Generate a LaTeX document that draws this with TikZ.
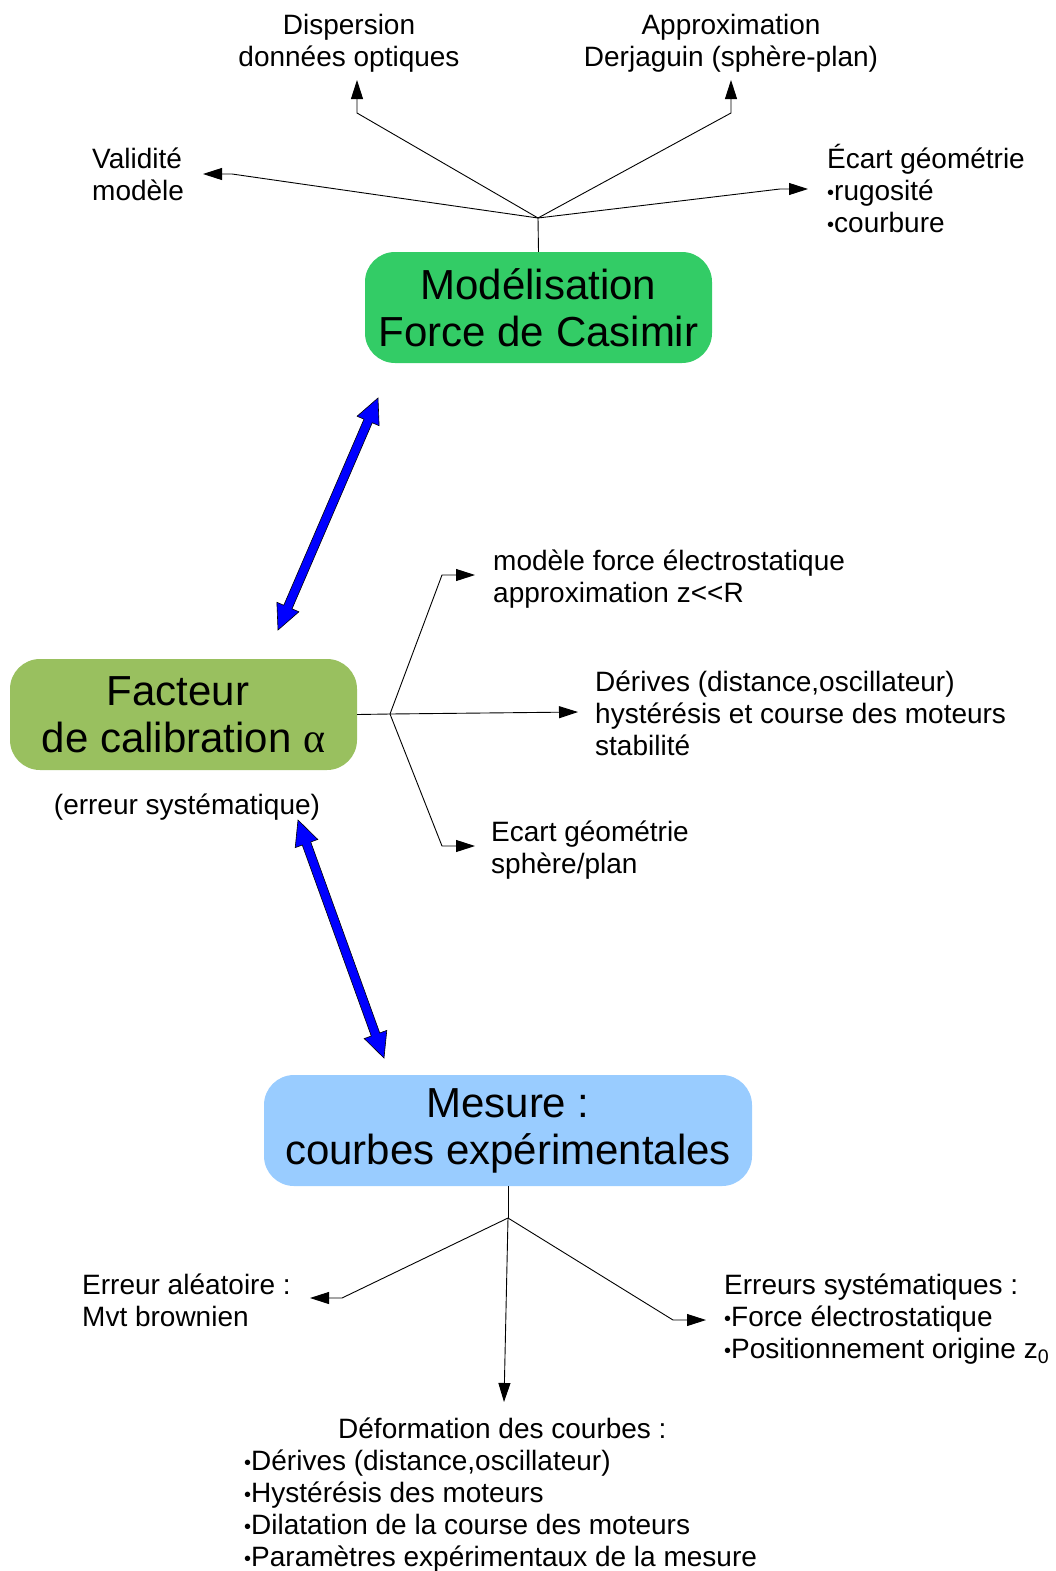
\documentclass[tikz,border=0pt]{standalone}
\usepackage{fontspec}
\setmainfont{Liberation Sans}
\newfontfamily\alphafont{Liberation Serif}
\usetikzlibrary{arrows.meta, positioning, calc}

\definecolor{modelgreen}{RGB}{51,204,102}
\definecolor{calibgreen}{RGB}{153,192,95}
\definecolor{mesureblue}{RGB}{153,204,255}

% small list bullet
\newcommand{\smallbullet}{{\fontsize{20}{20}\selectfont\raisebox{0.5pt}{•}}}

% large blue double arrow between two named coordinates
\newcommand{\bigdblarrow}[2]{%
  \filldraw[fill=blue, draw=black, line width=0.6pt]
    (#1)
    -- ($(#1)!25pt!(#2)!12pt!90:(#2)$)
    -- ($(#1)!25pt!(#2)!4.5pt!90:(#2)$)
    -- ($(#2)!25pt!(#1)!4.5pt!-90:(#1)$)
    -- ($(#2)!25pt!(#1)!12pt!-90:(#1)$)
    -- (#2)
    -- ($(#2)!25pt!(#1)!12pt!90:(#1)$)
    -- ($(#2)!25pt!(#1)!4.5pt!90:(#1)$)
    -- ($(#1)!25pt!(#2)!4.5pt!-90:(#2)$)
    -- ($(#1)!25pt!(#2)!12pt!-90:(#2)$)
    -- cycle;}

\begin{document}
\begin{tikzpicture}[
    x=1pt, y=-1pt,
    box/.style={rectangle, rounded corners=30pt, minimum width=347pt, minimum height=111pt, align=center, inner sep=0pt, font=\fontsize{42}{47}\selectfont},
    lbl/.style={inner sep=0pt, align=left, font=\fontsize{28}{32}\selectfont},
    conn/.style={-{Triangle[length=19pt, width=12pt]}, line width=0.9pt}
]
\useasboundingbox (0,0) rectangle (1056,1571);

% Boxes
\node[box, fill=modelgreen] (model) at (538.5,307.5) {Modélisation\\Force de Casimir};
\node[box, fill=calibgreen] (calib) at (183.5,714.5) {Facteur\hspace*{11pt}\\de calibration {\alphafont α}};
\node[box, fill=mesureblue, minimum width=488pt] (mesure) at (508,1130.5) {Mesure :\\courbes expérimentales};

% Labels
\node[lbl, align=center] (disp) at (349,43) {Dispersion\\données optiques};
\node[lbl, align=center] (approx) at (731,43) {Approximation\\Derjaguin (sphère-plan)};
\node[lbl, anchor=west] (valid) at (92,174) {Validité\\modèle};
\node[lbl, anchor=west] (ecartG) at (827,188) {Écart géométrie\\\smallbullet rugosité\\\smallbullet courbure};
\node[lbl, anchor=west] (emod) at (493,579) {modèle force électrostatique\\approximation z<\kern0pt<R};
\node[lbl, anchor=west] (derives) at (595,713) {Dérives (distance,oscillateur)\\hystérésis et course des moteurs\\stabilité};
\node[lbl, anchor=west] (ecartS) at (491,850) {Ecart géométrie\\sphère/plan};
\node[lbl, align=center] (errsys) at (187,807) {(erreur systématique)};
\node[lbl, anchor=west] (alea) at (82,1300) {Erreur aléatoire :\\Mvt brownien};
\node[lbl, anchor=west] (syst) at (724,1319) {Erreurs systématiques :\\\smallbullet Force électrostatique\\\smallbullet Positionnement origine z\textsubscript{0}};
\node[lbl, anchor=west] (deform) at (244,1495) {\hspace*{94pt}Déformation des courbes :\\\smallbullet Dérives (distance,oscillateur)\\\smallbullet Hystérésis des moteurs\\\smallbullet Dilatation de la course des moteurs\\\smallbullet Paramètres expérimentaux de la mesure};

% Junctions and arrow tips
\coordinate (jtop) at (538,218);
\coordinate (jcal) at (390,714);
\coordinate (jmes) at (508,1218);
\coordinate (tDisp) at (357,80);
\coordinate (tApprox) at (731,80);
\coordinate (tValid) at (203,174);
\coordinate (tEcartG) at (808,189);
\coordinate (tEmod) at (475,575);
\coordinate (tDerives) at (578,712);
\coordinate (tEcartS) at (475,846);
\coordinate (tAlea) at (310,1298);
\coordinate (tDeform) at (504,1402);
\coordinate (tSyst) at (706,1320);

% Arrows
\draw[line width=0.9pt] (model.north) -- (jtop);
\draw[conn] (jtop) -- (357,113) -- (tDisp);
\draw[conn] (jtop) -- (731,113) -- (tApprox);
\draw[conn] (jtop) -- (232,174) -- (tValid);
\draw[conn] (jtop) -- (780,189) -- (tEcartG);

\draw[line width=0.9pt] (calib.east) -- (jcal);
\draw[conn] (jcal) -- (442,575) -- (tEmod);
\draw[conn] (jcal) -- (tDerives);
\draw[conn] (jcal) -- (442,846) -- (tEcartS);

\draw[line width=0.9pt] (mesure.south) -- (jmes);
\draw[conn] (jmes) -- (342,1298) -- (tAlea);
\draw[conn] (jmes) -- (tDeform);
\draw[conn] (jmes) -- (673,1320) -- (tSyst);

% Blue links
\coordinate (bA) at (378,398);
\coordinate (bB) at (278,630);
\coordinate (bC) at (298,820);
\coordinate (bD) at (384,1058);
\bigdblarrow{bA}{bB}
\bigdblarrow{bC}{bD}
\end{tikzpicture}
\end{document}
